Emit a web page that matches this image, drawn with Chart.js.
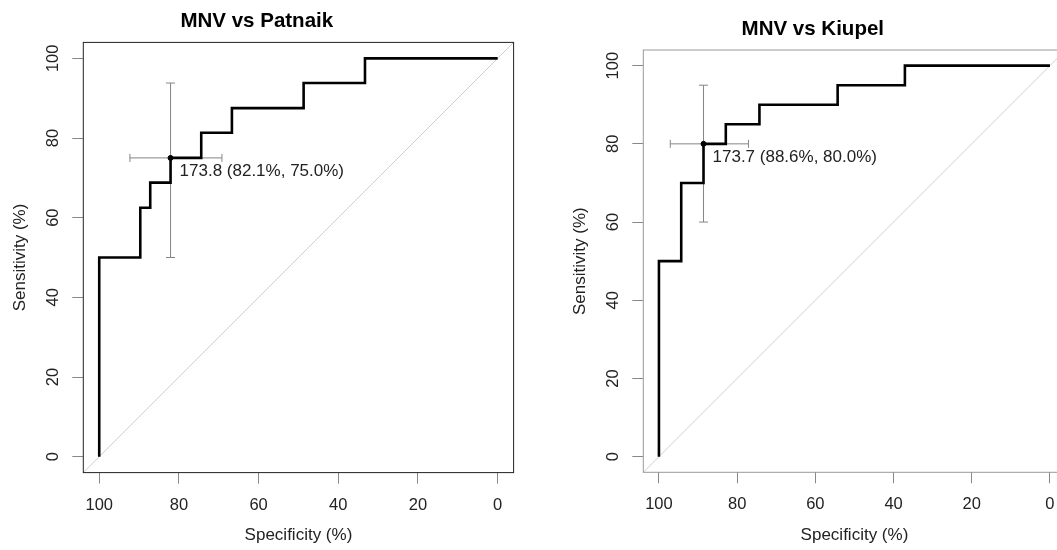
<!DOCTYPE html>
<html>
<head>
<meta charset="utf-8">
<script src="https://cdn.jsdelivr.net/npm/chart.js@4.4.1/dist/chart.umd.min.js"></script>
<style>
  html, body { margin: 0; padding: 0; background: #fff; }
  #wrap { position: relative; width: 1057px; height: 550px; overflow: hidden; }
  canvas { position: absolute; top: 0; }
  #rocLeft { left: 0; }
  #rocRight { left: 530px; }
</style>
</head>
<body>
<div id="wrap">
  <canvas id="rocLeft" width="530" height="550"></canvas>
  <canvas id="rocRight" width="560" height="550"></canvas>
</div>
<script>
const tickValues = [0, 20, 40, 60, 80, 100];

// MNV vs Patnaik
const patnaikSpec = [100, 100, 89.7, 87.2, 82.1, 74.4, 66.7, 48.7, 33.3, 0];
const patnaikSens = [0, 50, 62.5, 68.8, 75, 81.3, 87.5, 93.8, 100, 100];
const patnaikBest = [173.8, 82.1, 75.0]; // threshold, spec, sens
const patnaikSpecCI = [92.3, 69.2];
const patnaikSensCI = [50.0, 93.8];

// MNV vs Kiupel
const kiupelSpec = [100, 100, 94.3, 88.6, 82.9, 74.3, 54.3, 37.1, 0];
const kiupelSens = [0, 50, 70, 80, 85, 90, 95, 100, 100];
const kiupelBest = [173.7, 88.6, 80.0];
const kiupelSpecCI = [97.1, 77.1];
const kiupelSensCI = [60.0, 95.0];

const axisMin = -4;
const axisMax = 104;

Chart.defaults.font.family = "'Liberation Sans', Arial, sans-serif";
Chart.defaults.color = "#222";

function makeRoc(id, titleText, spec, sens, best, specCI, sensCI, lay) {
    const ctx = document.getElementById(id).getContext("2d");

    const labelText = best[0].toFixed(1) + " (" + best[1].toFixed(1) + "%, " + best[2].toFixed(1) + "%)";

    const boxAndLabel = {
        id: "boxAndLabel",
        afterDatasetsDraw(chart) {
            const c = chart.ctx;
            const a = chart.chartArea;
            c.save();
            c.strokeStyle = lay.boxColor;
            c.lineWidth = 1;
            c.strokeRect(a.left, a.top, a.right - a.left, a.bottom - a.top);

            const px = chart.scales.x.getPixelForValue(best[1]);
            const py = chart.scales.y.getPixelForValue(best[2]);
            c.fillStyle = "#222";
            c.font = "17px 'Liberation Sans', Arial, sans-serif";
            c.textBaseline = "alphabetic";
            c.textAlign = "left";
            c.fillText(labelText, px + 9, py + 18);
            c.restore();
        }
    };

    const datasets = [
        {
            data: [{x: best[1], y: best[2]}],
            pointRadius: 2.5,
            pointBackgroundColor: "#000",
            pointBorderColor: "#000",
            showLine: false
        },
        {
            data: spec.map((s, i) => ({x: s, y: sens[i]})),
            showLine: true,
            stepped: true,
            borderColor: "#000",
            borderWidth: 2.6,
            pointRadius: 0
        },
        {
            data: [{x: best[1], y: sensCI[0]}, {x: best[1], y: sensCI[1]}],
            showLine: true,
            borderColor: "#858585",
            borderWidth: 1,
            pointStyle: "line",
            pointRadius: 4.5,
            pointRotation: 0,
            pointBorderColor: "#858585",
            pointBorderWidth: 1
        },
        {
            data: [{x: specCI[0], y: best[2]}, {x: specCI[1], y: best[2]}],
            showLine: true,
            borderColor: "#858585",
            borderWidth: 1,
            pointStyle: "line",
            pointRadius: 4,
            pointRotation: 90,
            pointBorderColor: "#858585",
            pointBorderWidth: 1
        },
        {
            data: [{x: axisMax, y: 100 - axisMax}, {x: axisMin, y: 100 - axisMin}],
            showLine: true,
            borderColor: "#cfcfcf",
            borderWidth: 1,
            pointRadius: 0
        }
    ];

    const setTicks = (s) => { s.ticks = tickValues.map(v => ({value: v})); };

    return new Chart(ctx, {
        type: "scatter",
        data: {datasets},
        options: {
            responsive: false,
            animation: false,
            events: [],
            layout: {padding: {left: lay.padLeft, right: lay.padRight, top: 0, bottom: 0}},
            plugins: {
                legend: {display: false},
                tooltip: {enabled: false},
                title: {
                    display: true,
                    text: titleText,
                    color: "#000",
                    font: {size: 20.5, weight: "bold"},
                    padding: {top: lay.titleTop, bottom: lay.titleBottom}
                }
            },
            scales: {
                x: {
                    type: "linear",
                    reverse: true,
                    min: axisMin,
                    max: axisMax,
                    afterBuildTicks: setTicks,
                    afterFit: (s) => { s.height = lay.xHeight; },
                    grid: {drawOnChartArea: false, drawTicks: true, tickLength: 11, color: "#888"},
                    border: {display: false},
                    ticks: {font: {size: 16.5}, padding: 11.5, maxRotation: 0, autoSkip: false},
                    title: {display: true, text: "Specificity (%)", font: {size: 17}, padding: {top: 0, bottom: 4.8}}
                },
                y: {
                    type: "linear",
                    min: axisMin,
                    max: axisMax,
                    afterBuildTicks: setTicks,
                    afterFit: (s) => { s.width = 83.3; },
                    grid: {drawOnChartArea: false, drawTicks: true, tickLength: 11, color: "#888"},
                    border: {display: false},
                    ticks: {font: {size: 16.5}, padding: 5.2, minRotation: 90, maxRotation: 90, crossAlign: "center", autoSkip: false},
                    title: {display: true, text: "Sensitivity (%)", font: {size: 17}, padding: {top: 10.5, bottom: 0}}
                }
            }
        },
        plugins: [boxAndLabel]
    });
}

makeRoc("rocLeft", "MNV vs Patnaik", patnaikSpec, patnaikSens, patnaikBest, patnaikSpecCI, patnaikSensCI,
    {padLeft: 0, padRight: 16.4, titleTop: 8.7, titleBottom: 9.1, xHeight: 77.4, boxColor: "#222"});

makeRoc("rocRight", "MNV vs Kiupel", kiupelSpec, kiupelSens, kiupelBest, kiupelSpecCI, kiupelSensCI,
    {padLeft: 30, padRight: 24.4, titleTop: 16.7, titleBottom: 8.7, xHeight: 77.7, boxColor: "#999"});
</script>
</body>
</html>
